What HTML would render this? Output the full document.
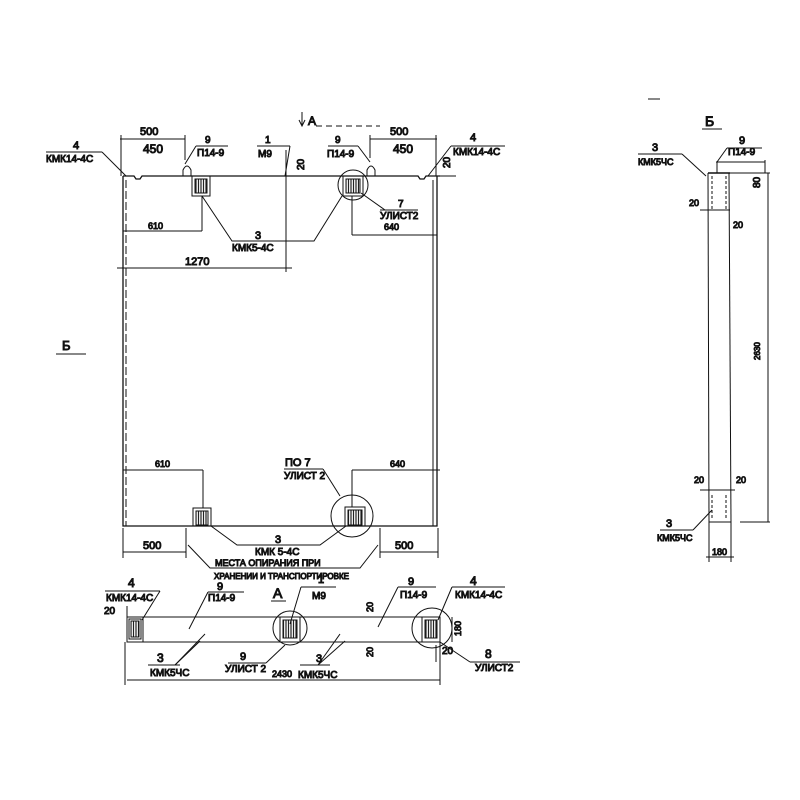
<!DOCTYPE html>
<html><head><meta charset="utf-8"><style>
html,body{margin:0;padding:0;background:#fff;width:800px;height:800px;overflow:hidden}
svg text{font-family:"Liberation Sans",sans-serif;fill:#111}
</style></head><body>
<svg width="800" height="800" viewBox="0 0 800 800" xmlns="http://www.w3.org/2000/svg" stroke="#111" fill="none" stroke-width="1">
<defs><pattern id="h" width="2.5" height="4" patternUnits="userSpaceOnUse"><rect width="2.5" height="4" fill="#fff" stroke="none"/><line x1="1" y1="0" x2="1" y2="4" stroke="#222" stroke-width="1.2"/></pattern></defs>
<!-- main panel -->
<path d="M123 176 L123 526 L437 526 L437 176" stroke-width="1.3"/>
<line x1="433" y1="180" x2="433" y2="526"/>
<line x1="126" y1="180" x2="126" y2="526" stroke-dasharray="8,3"/>
<path d="M123 176 L134 176 L136 179 L140 179 L142 176 L418 176 L420 179 L424 179 L426 176 L440 176" stroke-width="1.3"/>
<line x1="440" y1="176" x2="456" y2="176"/>
<path d="M183 176 L183 170 Q187 162 191 170 L191 176"/>
<path d="M367 176 L367 170 Q371 162 375 170 L375 176"/>
<rect x="192" y="176" width="18" height="20"/><rect x="195" y="179" width="12" height="14" fill="url(#h)"/>
<rect x="343" y="176" width="20" height="20"/><rect x="346" y="179" width="14" height="14" fill="url(#h)"/>
<circle cx="353" cy="185" r="15"/>
<line x1="120" y1="139" x2="185" y2="139"/><line x1="121" y1="135" x2="121" y2="176"/><line x1="185" y1="135" x2="185" y2="160"/>
<text x="140" y="135" font-size="11">500</text><text x="143" y="153" font-size="12">450</text>
<line x1="370" y1="139" x2="437" y2="139"/><line x1="370" y1="135" x2="370" y2="158"/><line x1="436" y1="135" x2="436" y2="176"/>
<text x="390" y="135" font-size="11">500</text><text x="393" y="153" font-size="12">450</text>
<line x1="123" y1="231" x2="202" y2="231"/><line x1="202" y1="196" x2="202" y2="231"/><text x="148" y="229" font-size="9">610</text>
<line x1="352" y1="235" x2="437" y2="235"/><line x1="352" y1="196" x2="352" y2="235"/><text x="384" y="230" font-size="9">640</text>
<line x1="117" y1="268" x2="292" y2="268"/><line x1="286" y1="150" x2="286" y2="272"/><text x="185" y="265" font-size="11">1270</text>
<line x1="46" y1="152" x2="102" y2="152"/><line x1="102" y1="152" x2="126" y2="176"/>
<text x="73" y="149" font-size="11">4</text><text x="46" y="162" font-size="10">КМК14-4С</text>
<line x1="196" y1="146" x2="228" y2="146"/><line x1="196" y1="146" x2="185" y2="164"/>
<text x="205" y="143" font-size="10">9</text><text x="197" y="156" font-size="10">П14-9</text>
<line x1="257" y1="146" x2="290" y2="146"/><line x1="290" y1="146" x2="285" y2="176"/>
<text x="265" y="143" font-size="10">1</text><text x="258" y="157" font-size="10">М9</text>
<text x="304" y="170" font-size="10" transform="rotate(-90 304 170)">20</text>
<line x1="328" y1="146" x2="358" y2="146"/><line x1="358" y1="146" x2="370" y2="162"/>
<text x="335" y="143" font-size="10">9</text><text x="327" y="157" font-size="10">П14-9</text>
<line x1="451" y1="146" x2="505" y2="146"/><line x1="451" y1="146" x2="428" y2="176"/>
<text x="470" y="141" font-size="11">4</text><text x="453" y="155" font-size="10">КМК14-4С</text>
<text x="450" y="168" font-size="10" transform="rotate(-90 450 168)">20</text>
<line x1="361" y1="193" x2="385" y2="210"/><line x1="380" y1="210" x2="418" y2="210"/>
<text x="398" y="207" font-size="10">7</text><text x="380" y="219" font-size="10">УЛИСТ2</text>
<path d="M202 196 L232 241 L314 241 L342 196"/>
<text x="255" y="239" font-size="11">3</text><text x="232" y="251" font-size="10">КМК5-4С</text>
<line x1="302" y1="112" x2="302" y2="126"/><path d="M299 120 L302 126 L305 120"/>
<text x="308" y="125" font-size="12">А</text>
<line x1="316" y1="126" x2="380" y2="126" stroke-dasharray="6,4"/>
<text x="62" y="350" font-size="13">Б</text><line x1="56" y1="354" x2="86" y2="354"/>
<rect x="193" y="508" width="18" height="18"/><rect x="196" y="511" width="12" height="14" fill="url(#h)"/>
<rect x="345" y="507" width="20" height="19"/><rect x="348" y="510" width="14" height="15" fill="url(#h)"/>
<circle cx="352" cy="516" r="21"/>
<line x1="123" y1="470" x2="203" y2="470"/><line x1="203" y1="470" x2="203" y2="508"/><text x="155" y="467" font-size="9">610</text>
<line x1="352" y1="470" x2="440" y2="470"/><line x1="352" y1="470" x2="352" y2="507"/><text x="390" y="467" font-size="9">640</text>
<line x1="284" y1="469" x2="323" y2="469"/><line x1="323" y1="469" x2="340" y2="496"/>
<text x="285" y="466" font-size="11">ПО 7</text><text x="284" y="479" font-size="10">УЛИСТ 2</text>
<path d="M211 526 L237 545 L320 545 L346 526"/>
<text x="275" y="543" font-size="11">3</text><text x="255" y="555" font-size="10">КМК 5-4С</text>
<line x1="123" y1="528" x2="123" y2="558"/><line x1="186" y1="528" x2="186" y2="558"/>
<line x1="123" y1="552" x2="186" y2="552"/><text x="143" y="549" font-size="11">500</text>
<line x1="380" y1="528" x2="380" y2="558"/><line x1="438" y1="528" x2="438" y2="558"/>
<line x1="380" y1="552" x2="438" y2="552"/><text x="395" y="549" font-size="11">500</text>
<path d="M188 545 L210 568 L360 568 L378 545"/>
<text x="215" y="566" font-size="9">МЕСТА ОПИРАНИЯ ПРИ</text>
<text x="214" y="579" font-size="8">ХРАНЕНИИ И ТРАНСПОРТИРОВКЕ</text>
<text x="273" y="598" font-size="14">А</text><line x1="271" y1="601" x2="286" y2="601"/>
<rect x="127" y="617" width="313" height="25"/>
<line x1="143" y1="617" x2="143" y2="642"/>
<rect x="129" y="619" width="12" height="20"/><rect x="131" y="621" width="8" height="16" fill="url(#h)"/>
<rect x="280" y="617" width="20" height="25"/><rect x="283" y="620" width="14" height="18" fill="url(#h)"/>
<circle cx="290" cy="628" r="17"/>
<rect x="422" y="617" width="18" height="25"/><rect x="425" y="620" width="12" height="18" fill="url(#h)"/>
<circle cx="432" cy="628" r="20"/>
<line x1="127" y1="680" x2="440" y2="680"/><line x1="125" y1="642" x2="125" y2="685"/><line x1="440" y1="642" x2="440" y2="685"/>
<text x="272" y="677" font-size="9">2430</text><text x="298" y="678" font-size="10">КМК5ЧС</text>
<line x1="105" y1="591" x2="160" y2="591"/><line x1="160" y1="591" x2="142" y2="620"/>
<text x="128" y="587" font-size="12">4</text><text x="106" y="601" font-size="10">КМК14-4С</text>
<text x="104" y="614" font-size="10">20</text><line x1="127" y1="606" x2="127" y2="617"/>
<line x1="208" y1="592" x2="244" y2="592"/><line x1="208" y1="592" x2="189" y2="629"/>
<text x="217" y="590" font-size="11">9</text><text x="208" y="601" font-size="10">П14-9</text>
<line x1="301" y1="587" x2="336" y2="587"/><line x1="301" y1="587" x2="290" y2="624"/>
<text x="318" y="583" font-size="11">1</text><text x="312" y="599" font-size="10">М9</text>
<line x1="398" y1="587" x2="436" y2="587"/><line x1="398" y1="587" x2="378" y2="627"/>
<text x="408" y="585" font-size="11">9</text><text x="400" y="598" font-size="10">П14-9</text>
<line x1="452" y1="587" x2="505" y2="587"/><line x1="452" y1="587" x2="438" y2="620"/>
<text x="470" y="585" font-size="12">4</text><text x="455" y="598" font-size="10">КМК14-4С</text>
<text x="373" y="612" font-size="9" transform="rotate(-90 373 612)">20</text>
<text x="373" y="657" font-size="9" transform="rotate(-90 373 657)">20</text>
<text x="461" y="636" font-size="9" transform="rotate(-90 461 636)">180</text>
<line x1="452" y1="617" x2="452" y2="642"/>
<text x="442" y="654" font-size="10">20</text><line x1="436" y1="645" x2="436" y2="662"/>
<line x1="440" y1="642" x2="470" y2="662"/><line x1="470" y1="662" x2="520" y2="662"/>
<text x="485" y="658" font-size="12">8</text><text x="475" y="671" font-size="10">УЛИСТ2</text>
<line x1="148" y1="665" x2="180" y2="665"/><line x1="175" y1="665" x2="205" y2="634"/><line x1="175" y1="665" x2="200" y2="641"/>
<text x="157" y="662" font-size="12">3</text><text x="150" y="676" font-size="10">КМК5ЧС</text>
<line x1="228" y1="663" x2="266" y2="663"/><line x1="266" y1="663" x2="285" y2="645"/>
<text x="240" y="660" font-size="11">9</text><text x="225" y="672" font-size="10">УЛИСТ 2</text>
<line x1="300" y1="665" x2="330" y2="665"/><line x1="318" y1="665" x2="340" y2="634"/><line x1="318" y1="665" x2="345" y2="641"/>
<text x="316" y="662" font-size="11">3</text>
<text x="705" y="126" font-size="14">Б</text><line x1="702" y1="129" x2="722" y2="129"/>
<line x1="708" y1="173" x2="730" y2="173" stroke-width="1.5"/>
<line x1="708" y1="173" x2="709" y2="522"/><line x1="729" y1="173" x2="731" y2="522"/>
<line x1="709" y1="522" x2="731" y2="522"/>
<line x1="712" y1="176" x2="712" y2="210" stroke-dasharray="3,2"/><line x1="726" y1="176" x2="726" y2="210" stroke-dasharray="3,2"/>
<line x1="712" y1="495" x2="712" y2="520" stroke-dasharray="3,2"/><line x1="726" y1="495" x2="726" y2="520" stroke-dasharray="3,2"/>
<line x1="716" y1="162" x2="765" y2="162"/><line x1="765" y1="160" x2="765" y2="173"/>
<line x1="730" y1="173" x2="770" y2="173"/><line x1="768" y1="173" x2="768" y2="522"/><line x1="740" y1="522" x2="770" y2="522"/>
<line x1="717" y1="162" x2="717" y2="173"/><line x1="717" y1="162" x2="727" y2="148"/><line x1="727" y1="148" x2="762" y2="148"/>
<text x="739" y="144" font-size="11">9</text><text x="728" y="155" font-size="10">П14-9</text>
<line x1="638" y1="154" x2="682" y2="154"/><line x1="682" y1="154" x2="706" y2="176"/>
<text x="652" y="151" font-size="11">3</text><text x="638" y="165" font-size="9">КМК5ЧС</text>
<text x="760" y="188" font-size="10" transform="rotate(-90 760 188)">80</text>
<text x="689" y="206" font-size="9">20</text><text x="733" y="228" font-size="9">20</text>
<line x1="700" y1="210" x2="730" y2="210"/>
<text x="760" y="360" font-size="8" transform="rotate(-90 760 360)">2630</text>
<text x="694" y="483" font-size="9">20</text><text x="736" y="483" font-size="9">20</text>
<line x1="700" y1="490" x2="735" y2="490"/>
<line x1="660" y1="530" x2="693" y2="530"/><line x1="693" y1="530" x2="712" y2="510"/>
<text x="666" y="527" font-size="11">3</text><text x="657" y="541" font-size="9">КМК5ЧС</text>
<line x1="709" y1="522" x2="709" y2="562"/><line x1="731" y1="522" x2="731" y2="562"/><line x1="706" y1="557" x2="734" y2="557"/>
<text x="712" y="555" font-size="9">180</text>
<line x1="648" y1="99" x2="660" y2="99"/>
</svg>
</body></html>
